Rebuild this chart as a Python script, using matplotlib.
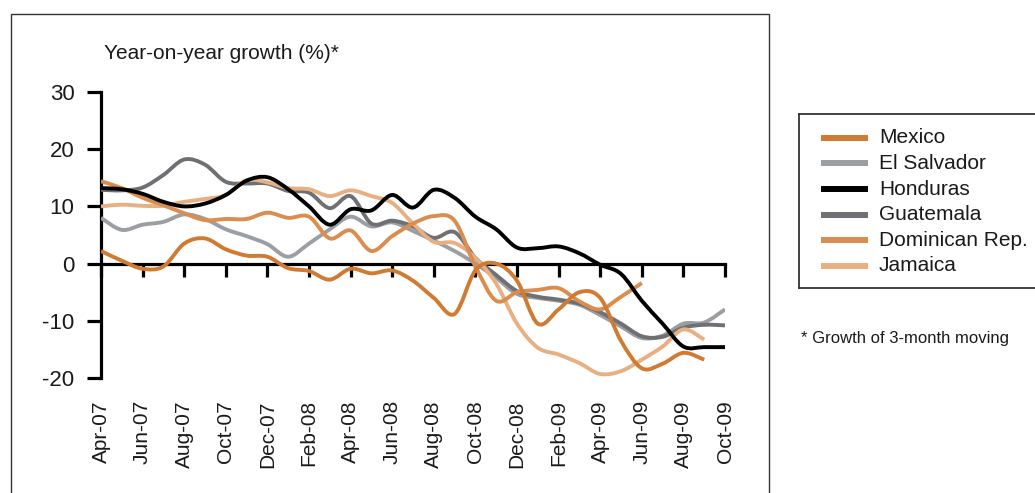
import matplotlib
matplotlib.use("Agg")
import numpy as np
import matplotlib.pyplot as plt
from matplotlib.patches import Rectangle, PathPatch
from matplotlib.path import Path

plt.rcParams['font.family'] = ['Liberation Sans', 'DejaVu Sans']
plt.rcParams['axes.unicode_minus'] = False

W, H = 1035, 493

# months since Apr-07 (0 = Apr-07, 30 = Oct-09)
tick_pos = list(range(0, 31, 2))
tick_labels = ['Apr-07', 'Jun-07', 'Aug-07', 'Oct-07', 'Dec-07', 'Feb-08', 'Apr-08', 'Jun-08',
               'Aug-08', 'Oct-08', 'Dec-08', 'Feb-09', 'Apr-09', 'Jun-09', 'Aug-09', 'Oct-09']

mexico = [2.2, 0.5, -0.9, -0.5, 3.5, 4.4, 2.5, 1.4, 1.2, -0.8, -1.3, -2.8, -0.9, -1.7, -1.2,
          -3.0, -6.0, -8.8, -1.2, 0.0, -3.0, -10.5, -8.0, -5.0, -6.0, -13.5, -18.3, -17.5, -15.6, -16.8]
el_salvador = [8.0, 5.9, 6.8, 7.3, 8.6, 7.8, 6.0, 4.8, 3.4, 1.2, 3.5, 6.0, 8.2, 6.5, 7.2, 5.7,
               4.0, 2.2, 0.0, -2.5, -5.3, -6.0, -6.5, -7.2, -9.0, -11.0, -13.0, -12.6, -10.5, -10.3, -8.0]
honduras = [13.2, 13.0, 12.2, 10.8, 10.0, 10.5, 12.0, 14.5, 15.1, 13.0, 10.0, 6.8, 9.5, 9.3, 12.0,
            9.8, 12.9, 11.5, 8.2, 6.0, 2.8, 2.7, 3.0, 1.8, -0.2, -1.8, -6.5, -10.5, -14.5, -14.6, -14.6]
guatemala = [12.9, 12.8, 13.3, 15.5, 18.2, 17.3, 14.3, 14.0, 14.0, 12.7, 12.4, 9.7, 11.8, 7.0, 7.5,
             6.5, 4.5, 5.5, 1.0, -2.0, -4.8, -5.8, -6.3, -7.0, -8.5, -10.5, -12.7, -12.8, -11.2, -10.7, -10.8]
dominican = [14.4, 13.2, 11.5, 10.2, 8.8, 7.6, 7.8, 7.8, 8.9, 8.0, 8.2, 4.4, 5.8, 2.2, 4.8, 7.0,
             8.3, 7.5, -0.5, -6.5, -5.0, -4.6, -4.3, -6.6, -8.0, -5.8, -3.4]
jamaica = [10.0, 10.3, 10.1, 10.1, 10.8, 11.3, 12.0, 14.6, 14.2, 13.2, 13.0, 11.8, 12.8, 11.8, 10.6,
           7.0, 3.8, 3.6, 1.0, -3.5, -10.5, -14.7, -15.9, -17.4, -19.3, -18.8, -16.8, -14.5, -11.5, -13.3]

series = [
    ('Mexico', mexico, '#d07a32'),
    ('El Salvador', el_salvador, '#9b9ea2'),
    ('Honduras', honduras, '#000000'),
    ('Guatemala', guatemala, '#6e7074'),
    ('Dominican Rep.', dominican, '#da8d4e'),
    ('Jamaica', jamaica, '#e8af82'),
]
draw_order = [1, 3, 5, 4, 0, 2]


def smooth_path(vals):
    # bezier curve through the monthly points (catmull-rom style handles)
    pts = np.column_stack([np.arange(len(vals)), vals]).astype(float)
    verts = [pts[0]]
    codes = [Path.MOVETO]
    n = len(pts)
    for i in range(n - 1):
        p0 = pts[max(i - 1, 0)]
        p1 = pts[i]
        p2 = pts[i + 1]
        p3 = pts[min(i + 2, n - 1)]
        verts += [p1 + (p2 - p0) / 6, p2 - (p3 - p1) / 6, p2]
        codes += [Path.CURVE4] * 3
    return Path(verts, codes)


fig = plt.figure(figsize=(W / 100, H / 100), dpi=100)
ax = fig.add_axes([101 / W, 1 - 378 / H, (725 - 101) / W, (378 - 92) / H])

for i in draw_order:
    name, vals, col = series[i]
    ax.add_patch(PathPatch(smooth_path(vals), fill=False, edgecolor=col, linewidth=2.8,
                           capstyle='butt', joinstyle='round', zorder=3))

ax.set_xlim(0, 30)
ax.set_ylim(-20, 30)
ax.spines['top'].set_visible(False)
ax.spines['right'].set_visible(False)
ax.spines['bottom'].set_position(('data', 0))
for s in ('left', 'bottom'):
    ax.spines[s].set_linewidth(2.3)
ax.set_yticks([-20, -10, 0, 10, 20, 30])
ax.tick_params(axis='y', direction='out', length=10, width=2.3, pad=9, labelsize=16,
               labelcolor='#1a1a1a')
ax.set_xticks(tick_pos)
ax.tick_params(axis='x', direction='out', length=9.5, width=2.3, labelbottom=False)

sec = ax.secondary_xaxis(0)
sec.set_xticks(tick_pos)
sec.set_xticklabels(tick_labels, rotation=90)
sec.tick_params(length=0, pad=16, labelsize=15, labelcolor='#1a1a1a')
sec.spines['bottom'].set_visible(False)

fig.text(104 / W, 1 - 59 / H, 'Year-on-year growth (%)*', fontsize=15, color='#1a1a1a',
         ha='left', va='baseline')

# outer frame around the chart (bottom edge lies outside the picture)
fig.add_artist(Rectangle((11 / W, -0.1), (769 - 11) / W, 1 - 14 / H + 0.1,
                         transform=fig.transFigure, fill=False, edgecolor='#333333', linewidth=1))

# legend box, right edge runs past the picture
lax = fig.add_axes([799 / W, 1 - 288 / H, (1045 - 799) / W, (288 - 114) / H])
lax.set_xlim(799, 1045)
lax.set_ylim(288, 114)
lax.set_xticks([])
lax.set_yticks([])
for s in lax.spines.values():
    s.set_linewidth(1.3)
    s.set_edgecolor('#333333')
row_y = [137.7, 163.3, 189.3, 215.0, 240.3, 265.7]
for (name, vals, col), yy in zip(series, row_y):
    lax.plot([821, 868], [yy, yy], color=col, linewidth=4.3, solid_capstyle='butt')
    lax.text(879, yy, name, fontsize=15, color='#1a1a1a', ha='left', va='center')

fig.text(801 / W, 1 - 338 / H, '* Growth of 3-month moving', fontsize=12, color='#1a1a1a',
         ha='left', va='center')

fig.savefig('out.png', dpi=100)
